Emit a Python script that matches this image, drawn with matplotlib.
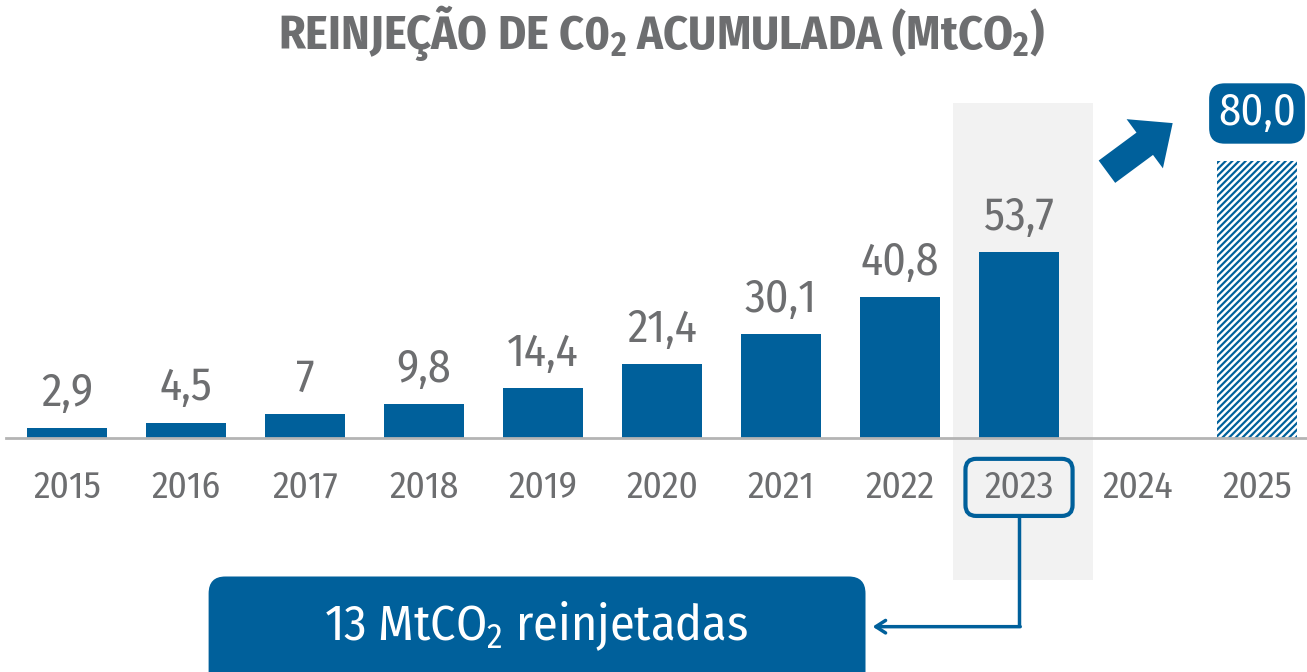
import matplotlib
matplotlib.use("Agg")
import matplotlib.pyplot as plt
from matplotlib.patches import FancyBboxPatch, Rectangle, FancyArrowPatch

FONTES = ['Fira Sans Condensed', 'Roboto Condensed', 'DejaVu Sans']
plt.rcParams['font.family'] = FONTES
plt.rcParams['mathtext.fontset'] = 'custom'
plt.rcParams['mathtext.rm'] = FONTES[0]
plt.rcParams['mathtext.bf'] = FONTES[0] + ':bold'
plt.rcParams['hatch.linewidth'] = 1.6

# dados
anos = ['2015', '2016', '2017', '2018', '2019', '2020', '2021', '2022', '2023', '2024', '2025']
valores = [2.9, 4.5, 7.0, 9.8, 14.4, 21.4, 30.1, 40.8, 53.7, None, 80.0]
rotulos = ['2,9', '4,5', '7', '9,8', '14,4', '21,4', '30,1', '40,8', '53,7', '', '80,0']
destaque = '2023'
meta = '2025'
titulo = r'REINJEÇÃO DE C0$_\mathbf{2}$ ACUMULADA (MtCO$_\mathbf{2}$)'
caixa_texto = r'13 MtCO$_2$ reinjetadas'

AZUL = '#00609b'
CINZA = '#6d6e70'

fig = plt.figure(figsize=(13.07, 6.72), dpi=100)
ax = fig.add_axes([0, 0, 1, 1])
ax.axis('off')
ax.set_xlim(-0.563, 10.42)
ax.set_ylim(-67.6, 126.6)

i_dest = anos.index(destaque)
i_meta = anos.index(meta)

# faixa cinza do ano em destaque
ax.add_patch(Rectangle((i_dest - 0.555, -41), 1.175, 137.8, facecolor='#f2f2f2',
                       edgecolor='none', zorder=0))

for i, (ano, v, rot) in enumerate(zip(anos, valores, rotulos)):
    if v is None:
        pass
    elif ano == meta:
        ax.bar(i, v, width=0.67, facecolor='white', edgecolor=AZUL, hatch='/////',
               linewidth=0, zorder=2)
    else:
        ax.bar(i, v, width=0.67, color=AZUL, zorder=2)
        ax.annotate(rot, (i, v), xytext=(0, 16), textcoords='offset points',
                    ha='center', va='baseline', fontsize=33, color=CINZA)
    ax.text(i, -17.3, ano, ha='center', va='baseline', fontsize=27, color=CINZA)

# linha de base
ax.axhline(0, xmin=0.0045, xmax=1, color='#b4b4b4', lw=2, zorder=3)

# rótulo 80,0 em caixa
ax.text(i_meta, 93.8, rotulos[i_meta], ha='center', va='center', fontsize=32, color='white',
        zorder=5,
        bbox=dict(boxstyle='round,pad=0.2,rounding_size=0.35', fc=AZUL, ec='none'))

# seta de crescimento
ax.add_patch(FancyArrowPatch((i_meta - 1.28, 76.5), (i_meta - 0.69, 91.5),
                             arrowstyle='simple,head_length=25,head_width=44,tail_width=20',
                             mutation_scale=1, color=AZUL, lw=0, zorder=4))

# caixa no ano em destaque
ax.add_patch(FancyBboxPatch((i_dest - 0.45, -22.5), 0.9, 16.5,
                            boxstyle='round,pad=0,rounding_size=0.09',
                            fc='none', ec=AZUL, lw=3, zorder=4, mutation_aspect=35))

# conector até a caixa inferior
ax.plot([i_dest, i_dest], [-22.5, -54.5], color=AZUL, lw=2.5, zorder=4,
        solid_capstyle='butt')
ax.annotate('', xy=(6.77, -54.5), xytext=(i_dest + 0.01, -54.5),
            arrowprops=dict(arrowstyle='->,head_width=0.45,head_length=0.7',
                            color=AZUL, lw=2.5, shrinkA=0, shrinkB=0), zorder=4)

# caixa inferior
ax.add_patch(FancyBboxPatch((1.19, -75), 5.52, 35,
                            boxstyle='round,pad=0,rounding_size=0.14',
                            fc=AZUL, ec='none', zorder=4, mutation_aspect=35))
ax.text(3.94, -54.3, caixa_texto, ha='center', va='center', fontsize=36, color='white',
        zorder=5)

fig.text(0.506, 0.951, titulo, ha='center', va='center', fontsize=34.5, fontweight='bold',
         color=CINZA)

fig.savefig('out.png', dpi=100)
